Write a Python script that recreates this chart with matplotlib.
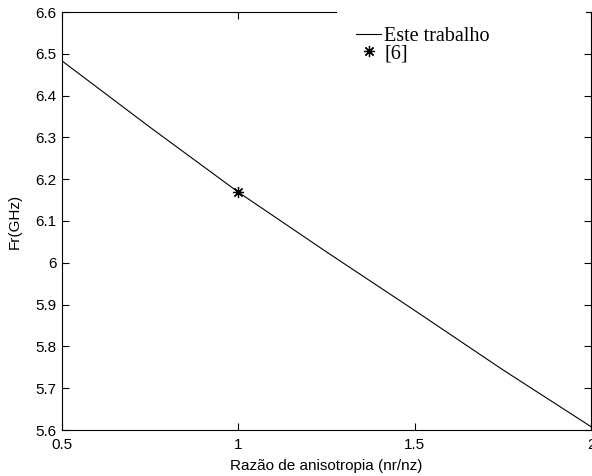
import matplotlib
matplotlib.use("Agg")
import matplotlib.pyplot as plt
from matplotlib.patches import Rectangle

# values
razao = [0.5, 0.75, 1.0, 1.25, 1.5, 1.75, 2.0]
fr_ghz = [6.483, 6.324, 6.169, 6.026, 5.886, 5.744, 5.608]
ref_x = [1.0]
ref_y = [6.169]
xticks = [0.5, 1, 1.5, 2]
xtick_labels = ["0.5", "1", "1.5", "2"]
yticks = [5.6, 5.7, 5.8, 5.9, 6.0, 6.1, 6.2, 6.3, 6.4, 6.5, 6.6]
ytick_labels = ["5.6", "5.7", "5.8", "5.9", "6", "6.1", "6.2", "6.3", "6.4", "6.5", "6.6"]


def main():
    plt.rcParams["font.family"] = "Liberation Sans"
    fig = plt.figure(figsize=(5.92, 4.76), dpi=100)
    ax = fig.add_axes([62 / 592, 1 - 430 / 476, 529 / 592, 418 / 476])

    ax.plot(razao, fr_ghz, color="black", lw=0.8, label="Este trabalho")
    ax.plot(ref_x, ref_y, ls="none", marker=(8, 2, 0), ms=8, mew=0.9,
            color="black", label="[6]")

    ax.set_xlim(0.5, 2)
    ax.set_ylim(5.6, 6.6)
    ax.set_xticks(xticks)
    ax.set_xticklabels(xtick_labels)
    ax.set_yticks(yticks)
    ax.set_yticklabels(ytick_labels)
    ax.tick_params(direction="in", length=5, width=0.8, top=True, right=True,
                   labelsize=11, colors="black")
    ax.tick_params(axis="x", pad=6)
    ax.tick_params(axis="y", pad=4)
    for sp in ax.spines.values():
        sp.set_linewidth(0.8)

    ax.set_xlabel("Razão de anisotropia (nr/nz)", fontsize=11, labelpad=5)
    ax.set_ylabel("Fr(GHz)", fontsize=11, labelpad=10)

    # white legend box hides part of the top border, as in the original
    ax.add_patch(Rectangle((0.52, 0.93), 0.47, 0.09, transform=ax.transAxes,
                           facecolor="white", edgecolor="none",
                           clip_on=False, zorder=4))

    ax.legend(loc="upper left", bbox_to_anchor=(0.556, 0.964),
              prop={"family": "Liberation Serif", "size": 14.5},
              frameon=False, handlelength=1.25, handletextpad=0.15,
              borderpad=0, labelspacing=-0.1, borderaxespad=0)

    fig.savefig("out.png", dpi=100)


if __name__ == "__main__":
    main()
